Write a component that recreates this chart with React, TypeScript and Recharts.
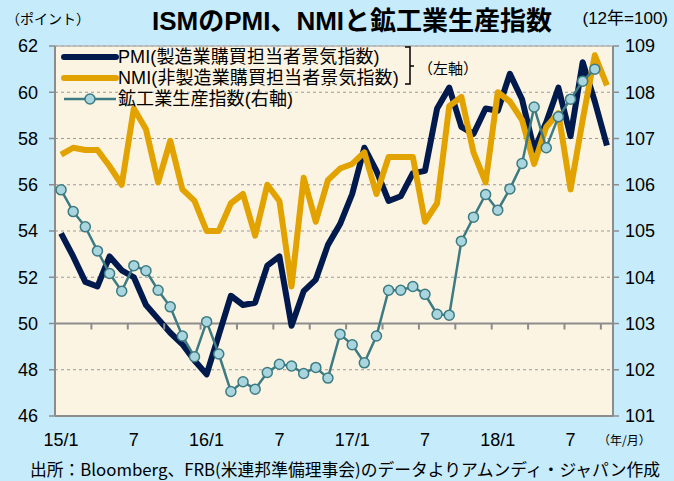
import React from 'react';
import { ComposedChart, Line, XAxis, YAxis, CartesianGrid, ReferenceLine, ReferenceDot } from 'recharts';

const months = [
  '2015/1','2015/2','2015/3','2015/4','2015/5','2015/6','2015/7','2015/8','2015/9','2015/10','2015/11','2015/12',
  '2016/1','2016/2','2016/3','2016/4','2016/5','2016/6','2016/7','2016/8','2016/9','2016/10','2016/11','2016/12',
  '2017/1','2017/2','2017/3','2017/4','2017/5','2017/6','2017/7','2017/8','2017/9','2017/10','2017/11','2017/12',
  '2018/1','2018/2','2018/3','2018/4','2018/5','2018/6','2018/7','2018/8','2018/9','2018/10',
];

const pmi = [53.9, 52.9, 51.8, 51.6, 52.9, 52.3, 52.0, 50.8, 50.2, 49.6, 49.1, 48.4,
  47.8, 49.5, 51.2, 50.8, 50.9, 52.5, 52.9, 49.9, 51.4, 51.9, 53.4, 54.3,
  55.6, 57.6, 56.6, 55.3, 55.5, 56.5, 56.6, 59.3, 60.2, 58.5, 58.2, 59.3,
  59.2, 60.8, 59.7, 57.5, 58.7, 60.2, 58.1, 61.3, 59.6, 57.7];

const nmi = [57.3, 57.6, 57.5, 57.5, 56.8, 56.0, 59.3, 58.4, 56.1, 57.9, 55.8, 55.3,
  54.0, 54.0, 55.2, 55.6, 53.8, 56.0, 55.3, 51.6, 56.3, 54.4, 56.2, 56.7,
  56.9, 57.4, 55.6, 57.2, 57.2, 57.2, 54.4, 55.2, 59.4, 59.8, 57.4, 56.1,
  60.0, 59.6, 58.8, 56.9, 58.5, 59.1, 55.8, 58.8, 61.6, 60.3];

const ip = [105.89, 105.42, 105.09, 104.57, 104.08, 103.70, 104.25, 104.14, 103.72, 103.36, 102.73, 102.28,
  103.04, 102.34, 101.53, 101.74, 101.58, 101.94, 102.12, 102.08, 101.92, 102.05, 101.82, 102.77,
  102.54, 102.15, 102.73, 103.72, 103.72, 103.80, 103.63, 103.20, 103.18, 104.78, 105.30, 105.79,
  105.45, 105.91, 106.46, 107.68, 106.80, 107.47, 107.85, 108.24, 108.50];

const xTickPositions = [0, 6, 12, 18, 24, 30, 36, 42];
const xTickLabels = ['15/1', '7', '16/1', '7', '17/1', '7', '18/1', '7'];
const minorTickBoundaries = [2.5, 5.5, 8.5, 11.5, 14.5, 17.5, 20.5, 23.5, 26.5, 29.5, 32.5, 35.5, 38.5, 41.5, 44.5];
const leftTicks = [46, 48, 50, 52, 54, 56, 58, 60, 62];
const rightTicks = [101, 102, 103, 104, 105, 106, 107, 108, 109];

const seriesNames = ['PMI(製造業購買担当者景気指数)', 'NMI(非製造業購買担当者景気指数)', '鉱工業生産指数(右軸)'];
const titleText = 'ISMのPMI、NMIと鉱工業生産指数';
const leftUnit = '（ポイント）';
const rightUnit = '(12年=100)';
const xUnit = '（年/月）';
const leftAxisNote = '（左軸）';
const sourceText = '出所：Bloomberg、FRB(米連邦準備理事会)のデータよりアムンディ・ジャパン作成';

const data = months.map((m, i) => ({
  idx: i,
  month: m,
  pmi: pmi[i],
  nmi: nmi[i],
  ip: i < ip.length ? ip[i] : null,
}));

const NAVY = '#001a4e';
const ORANGE = '#e2a300';
const TEAL = '#3d7b83';
const TEAL_FILL = '#a9d5de';
const BG = '#c6ebfb';
const PLOT_BG = '#fcf4e2';
const AXIS = '#8c8c8c';
const FONT = "'Liberation Sans', Arial, 'Noto Sans CJK JP', sans-serif";
const JFONT = "'Noto Sans CJK JP', 'Liberation Sans', sans-serif";

const TickMark = (props: any) => (
  <line x1={props.cx} y1={props.cy} x2={props.cx} y2={props.cy + 6} stroke={AXIS} strokeWidth={2} />
);

const abs = (style: React.CSSProperties): React.CSSProperties => ({ position: 'absolute', whiteSpace: 'nowrap', ...style });

export default function App() {
  return (
    <div style={{ position: 'absolute', left: 0, top: 0, width: 674, height: 481, background: BG, overflow: 'hidden', fontFamily: FONT }}>
      <ComposedChart width={674} height={481} data={data} margin={{ top: 46, right: 0, bottom: 0, left: 0 }}>
        <CartesianGrid yAxisId="left" vertical={false} strokeDasharray="3 3" stroke="#9a9a9a" fill={PLOT_BG} />
        <XAxis
          dataKey="idx"
          type="number"
          domain={[-0.5, 45.5]}
          ticks={xTickPositions}
          tickFormatter={(v: number) => xTickLabels[xTickPositions.indexOf(v)] ?? ''}
          height={65}
          axisLine={{ stroke: AXIS, strokeWidth: 2 }}
          tickLine={false}
          tickMargin={11}
          tick={{ fontSize: 18, fill: '#000', fontFamily: FONT }}
          interval={0}
        />
        <YAxis
          yAxisId="left"
          orientation="left"
          domain={[46, 62]}
          ticks={leftTicks}
          width={55}
          axisLine={{ stroke: AXIS, strokeWidth: 2 }}
          tickLine={{ stroke: AXIS, strokeWidth: 1.5 }}
          tickSize={6}
          tickMargin={11}
          tick={{ fontSize: 18, fill: '#000', fontFamily: FONT }}
          interval={0}
        />
        <YAxis
          yAxisId="right"
          orientation="right"
          domain={[101, 109]}
          ticks={rightTicks}
          width={61}
          axisLine={{ stroke: AXIS, strokeWidth: 2 }}
          tickLine={{ stroke: AXIS, strokeWidth: 1.5 }}
          tickSize={6}
          tickMargin={6}
          tick={{ fontSize: 18, fill: '#000', fontFamily: FONT }}
          interval={0}
        />
        <ReferenceLine yAxisId="left" y={62} stroke="#b5b5b5" strokeWidth={1.5} />
        <ReferenceLine yAxisId="left" y={50} stroke={AXIS} strokeWidth={2} />
        {minorTickBoundaries.map((b) => (
          <ReferenceDot key={b} yAxisId="left" x={b} y={50} shape={TickMark} />
        ))}
        <Line yAxisId="left" type="linear" dataKey="pmi" stroke={NAVY} strokeWidth={6} dot={false} isAnimationActive={false} strokeLinejoin="round" />
        <Line yAxisId="left" type="linear" dataKey="nmi" stroke={ORANGE} strokeWidth={6} dot={false} isAnimationActive={false} strokeLinejoin="round" />
        <Line yAxisId="right" type="linear" dataKey="ip" stroke={TEAL} strokeWidth={2.5} dot={{ r: 5, fill: TEAL_FILL, stroke: TEAL, strokeWidth: 1.5 }} isAnimationActive={false} connectNulls={false} />
      </ComposedChart>

      {/* Title & units */}
      <div style={abs({ left: 352, top: 5, transform: 'translateX(-50%)', fontSize: 26, fontWeight: 'bold', lineHeight: '32px', color: '#000', fontFamily: FONT })}>{titleText}</div>
      <div style={abs({ left: 6, top: 9, fontSize: 14, lineHeight: '18px', color: '#000', fontFamily: JFONT })}>{leftUnit}</div>
      <div style={abs({ right: 6, top: 9, fontSize: 17, lineHeight: '20px', color: '#000', fontFamily: FONT })}>{rightUnit}</div>
      <div style={abs({ left: 598, top: 432, fontSize: 12, lineHeight: '16px', color: '#000', fontFamily: JFONT })}>{xUnit}</div>
      <div style={abs({ left: 345, top: 458, transform: 'translateX(-50%)', fontSize: 16.8, lineHeight: '22px', color: '#000', fontFamily: JFONT })}>{sourceText}</div>

      {/* Legend */}
      <svg style={{ position: 'absolute', left: 0, top: 0 }} width={674} height={481}>
        <line x1={64} y1={57} x2={116} y2={57} stroke={NAVY} strokeWidth={6} strokeLinecap="round" />
        <line x1={64} y1={78} x2={116} y2={78} stroke={ORANGE} strokeWidth={6} strokeLinecap="round" />
        <line x1={64} y1={99} x2={116} y2={99} stroke={TEAL} strokeWidth={2.5} />
        <circle cx={90} cy={99} r={5} fill={TEAL_FILL} stroke={TEAL} strokeWidth={1.5} />
        <path d="M405 47 L410 47 L410 66 L414 66 M410 66 L410 84 L405 84" fill="none" stroke="#000" strokeWidth={1.5} />
      </svg>
      <div style={abs({ left: 118, top: 46, fontSize: 18, lineHeight: '22px', letterSpacing: 0.1, color: '#000', fontFamily: FONT })}>{seriesNames[0]}</div>
      <div style={abs({ left: 118, top: 67, fontSize: 18, lineHeight: '22px', letterSpacing: 0.1, color: '#000', fontFamily: FONT })}>{seriesNames[1]}</div>
      <div style={abs({ left: 118, top: 88, fontSize: 18, lineHeight: '22px', letterSpacing: 0.1, color: '#000', fontFamily: FONT })}>{seriesNames[2]}</div>
      <div style={abs({ left: 418, top: 58, fontSize: 15, lineHeight: '20px', color: '#000', fontFamily: JFONT })}>{leftAxisNote}</div>
    </div>
  );
}
